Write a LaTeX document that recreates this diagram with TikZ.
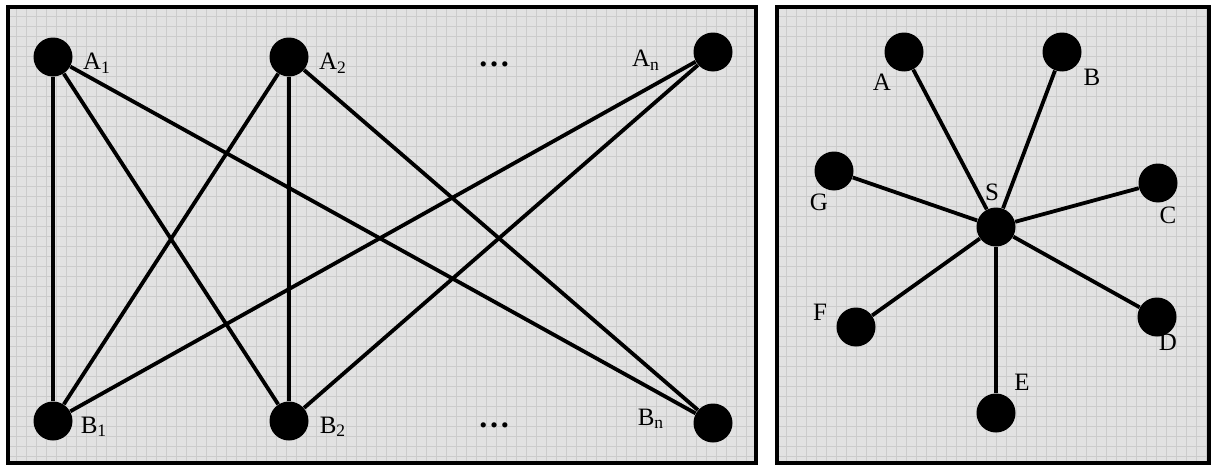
\documentclass[tikz,border=0pt]{standalone}
\usepackage{fontspec}
\setmainfont{Liberation Serif}
\definecolor{paper}{RGB}{226,226,226}
\definecolor{rule}{RGB}{204,204,204}
\begin{document}
\begin{tikzpicture}[x=0.5pt, y=-0.5pt,
    dot/.style={circle, fill=black, minimum size=19.5pt, inner sep=0pt},
    lbl/.style={font=\fontsize{12.5}{12.5}\selectfont, inner sep=0pt},
    edge/.style={line width=1.9pt},
    panel/.style={line width=2pt}]
  \useasboundingbox (0,0) rectangle (1212,466);

  % panels
  \fill[paper] (8,7) rectangle (756,463);
  \fill[paper] (777,7) rectangle (1209,463);
  \begin{scope}
    \clip (8,7) rectangle (756,463);
    \draw[rule, line width=0.4pt, step=5pt, shift={(6,6)}] (0,0) grid (760,470);
  \end{scope}
  \begin{scope}
    \clip (777,7) rectangle (1209,463);
    \draw[rule, line width=0.4pt, step=5pt, shift={(6,6)}] (760,0) grid (1220,470);
  \end{scope}
  \draw[panel] (8,7) rectangle (756,463);
  \draw[panel] (777,7) rectangle (1209,463);

  % bipartite side
  \node[dot] (a1) at (53,57)  {};
  \node[dot] (a2) at (289,57) {};
  \node[dot] (an) at (713,52) {};
  \node[dot] (b1) at (53,421)  {};
  \node[dot] (b2) at (289,421) {};
  \node[dot] (bn) at (713,423) {};

  \node[lbl] (la1) at (97,63)  {A\textsubscript{1}};
  \node[lbl] (la2) at (333,63) {A\textsubscript{2}};
  \node[lbl] (lan) at (646,60) {A\textsubscript{n}};
  \node[lbl] (lb1) at (94,427)  {B\textsubscript{1}};
  \node[lbl] (lb2) at (333,427) {B\textsubscript{2}};
  \node[lbl] (lbn) at (651,419) {B\textsubscript{n}};
  \node[lbl, font=\fontsize{16}{16}\selectfont] (top) at (494,64) {\bfseries\ldots};
  \node[lbl, font=\fontsize{16}{16}\selectfont] (bot) at (494,425) {\bfseries\ldots};

  \draw[edge] (a1) -- (b1);
  \draw[edge] (a1) -- (b2);
  \draw[edge] (a1) -- (bn);
  \draw[edge] (a2) -- (b1);
  \draw[edge] (a2) -- (b2);
  \draw[edge] (a2) -- (bn);
  \draw[edge] (an) -- (b1);
  \draw[edge] (an) -- (b2);

  % star side
  \node[dot] (s) at (996,227) {};
  \node[dot] (a) at (904,52)  {};
  \node[dot] (b) at (1062,52) {};
  \node[dot] (c) at (1158,183) {};
  \node[dot] (d) at (1157,317) {};
  \node[dot] (e) at (996,413) {};
  \node[dot] (f) at (856,327) {};
  \node[dot] (g) at (834,171) {};

  \node[lbl] (ls) at (992,192)  {S};
  \node[lbl] (la) at (882,82)   {A};
  \node[lbl] (lb) at (1092,77)  {B};
  \node[lbl] (lc) at (1168,215) {C};
  \node[lbl] (ld) at (1168,342) {D};
  \node[lbl] (le) at (1022,382) {E};
  \node[lbl] (lf) at (820,312)  {F};
  \node[lbl] (lg) at (819,202)  {G};

  \foreach \leaf in {a,b,c,d,e,f,g}
    \draw[edge] (s) -- (\leaf);
\end{tikzpicture}
\end{document}
